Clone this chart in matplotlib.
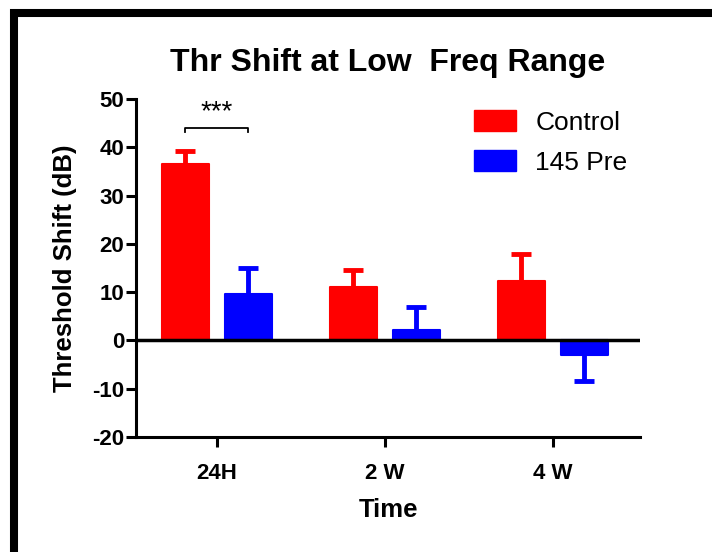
import numpy as np
import matplotlib
matplotlib.use("Agg")
import matplotlib.pyplot as plt
from matplotlib.patches import Rectangle, Patch

plt.rcParams["font.family"] = ["Liberation Sans", "DejaVu Sans"]

categories = ["24H", "2 W", "4 W"]
control_mean = [36.5, 11.0, 12.3]
control_sem = [2.8, 3.6, 5.6]
pre_mean = [9.7, 2.2, -3.0]
pre_sem = [5.4, 4.8, 5.5]
series_names = ["Control", "145 Pre"]
colors = ["#ff0000", "#0000ff"]
yticks = [-20, -10, 0, 10, 20, 30, 40, 50]

fig = plt.figure(figsize=(7.12, 5.52), dpi=100)
ax = fig.add_axes([0.191, 0.2083, 0.708, 0.6124])

x = np.arange(len(categories))
width = 0.28
offset = 0.1875
cap = 0.06

for i, (means, errs) in enumerate([(control_mean, control_sem), (pre_mean, pre_sem)]):
    pos = x + (-offset if i == 0 else offset)
    ax.bar(pos, means, width=width, color=colors[i], edgecolor=colors[i],
           linewidth=1.5, joinstyle="round", zorder=3)
    for px, m, e in zip(pos, means, errs):
        end = m + e if m >= 0 else m - e
        ax.vlines(px, m, end, color=colors[i], linewidth=3.5, zorder=2)
        ax.hlines(end, px - cap, px + cap, color=colors[i], linewidth=3.5, zorder=2)

ax.axhline(0, color="black", linewidth=2.5, zorder=4)

# significance bracket over 24H
bx0, bx1, by = x[0] - offset, x[0] + offset, 44.0
ax.plot([bx0, bx0, bx1, bx1], [by - 0.9, by, by, by - 0.9], color="black", linewidth=1.3)
ax.text(x[0], by + 0.6, "***", ha="center", va="bottom", fontsize=20)

ax.set_xlim(-0.48, 2.52)
ax.set_ylim(-20, 50)
ax.set_xticks(x)
ax.set_xticklabels(categories, fontsize=16, fontweight="bold")
ax.set_yticks(yticks)
ax.set_yticklabels([str(t) for t in yticks], fontsize=16, fontweight="bold")
ax.tick_params(axis="both", direction="out", length=7, width=2.2, pad=1.5)
ax.tick_params(axis="x", pad=12)

for side in ["top", "right"]:
    ax.spines[side].set_visible(False)
for side in ["left", "bottom"]:
    ax.spines[side].set_linewidth(2.2)

ax.set_title("Thr Shift at Low  Freq Range", fontsize=23, fontweight="bold", pad=20)
ax.set_ylabel("Threshold Shift (dB)", fontsize=18.5, fontweight="bold", labelpad=11)
ax.set_xlabel("Time", fontsize=18.5, fontweight="bold", labelpad=10)

handles = [Patch(facecolor=c, edgecolor=c) for c in colors]
ax.legend(handles, series_names, loc="upper left", frameon=False, fontsize=19,
          bbox_to_anchor=(474 / 712, 1 - 110 / 552), bbox_transform=fig.transFigure,
          handlelength=1.6, handleheight=0.85, handletextpad=0.72,
          labelspacing=0.58, borderpad=0, borderaxespad=0)

# outer black frame
fig.add_artist(Rectangle((14 / 712, -3 / 552), 1.2, (552 - 13 + 3) / 552,
                         transform=fig.transFigure, fill=False, edgecolor="black",
                         linewidth=5.8, clip_on=False))

fig.savefig("out.png", dpi=100)
